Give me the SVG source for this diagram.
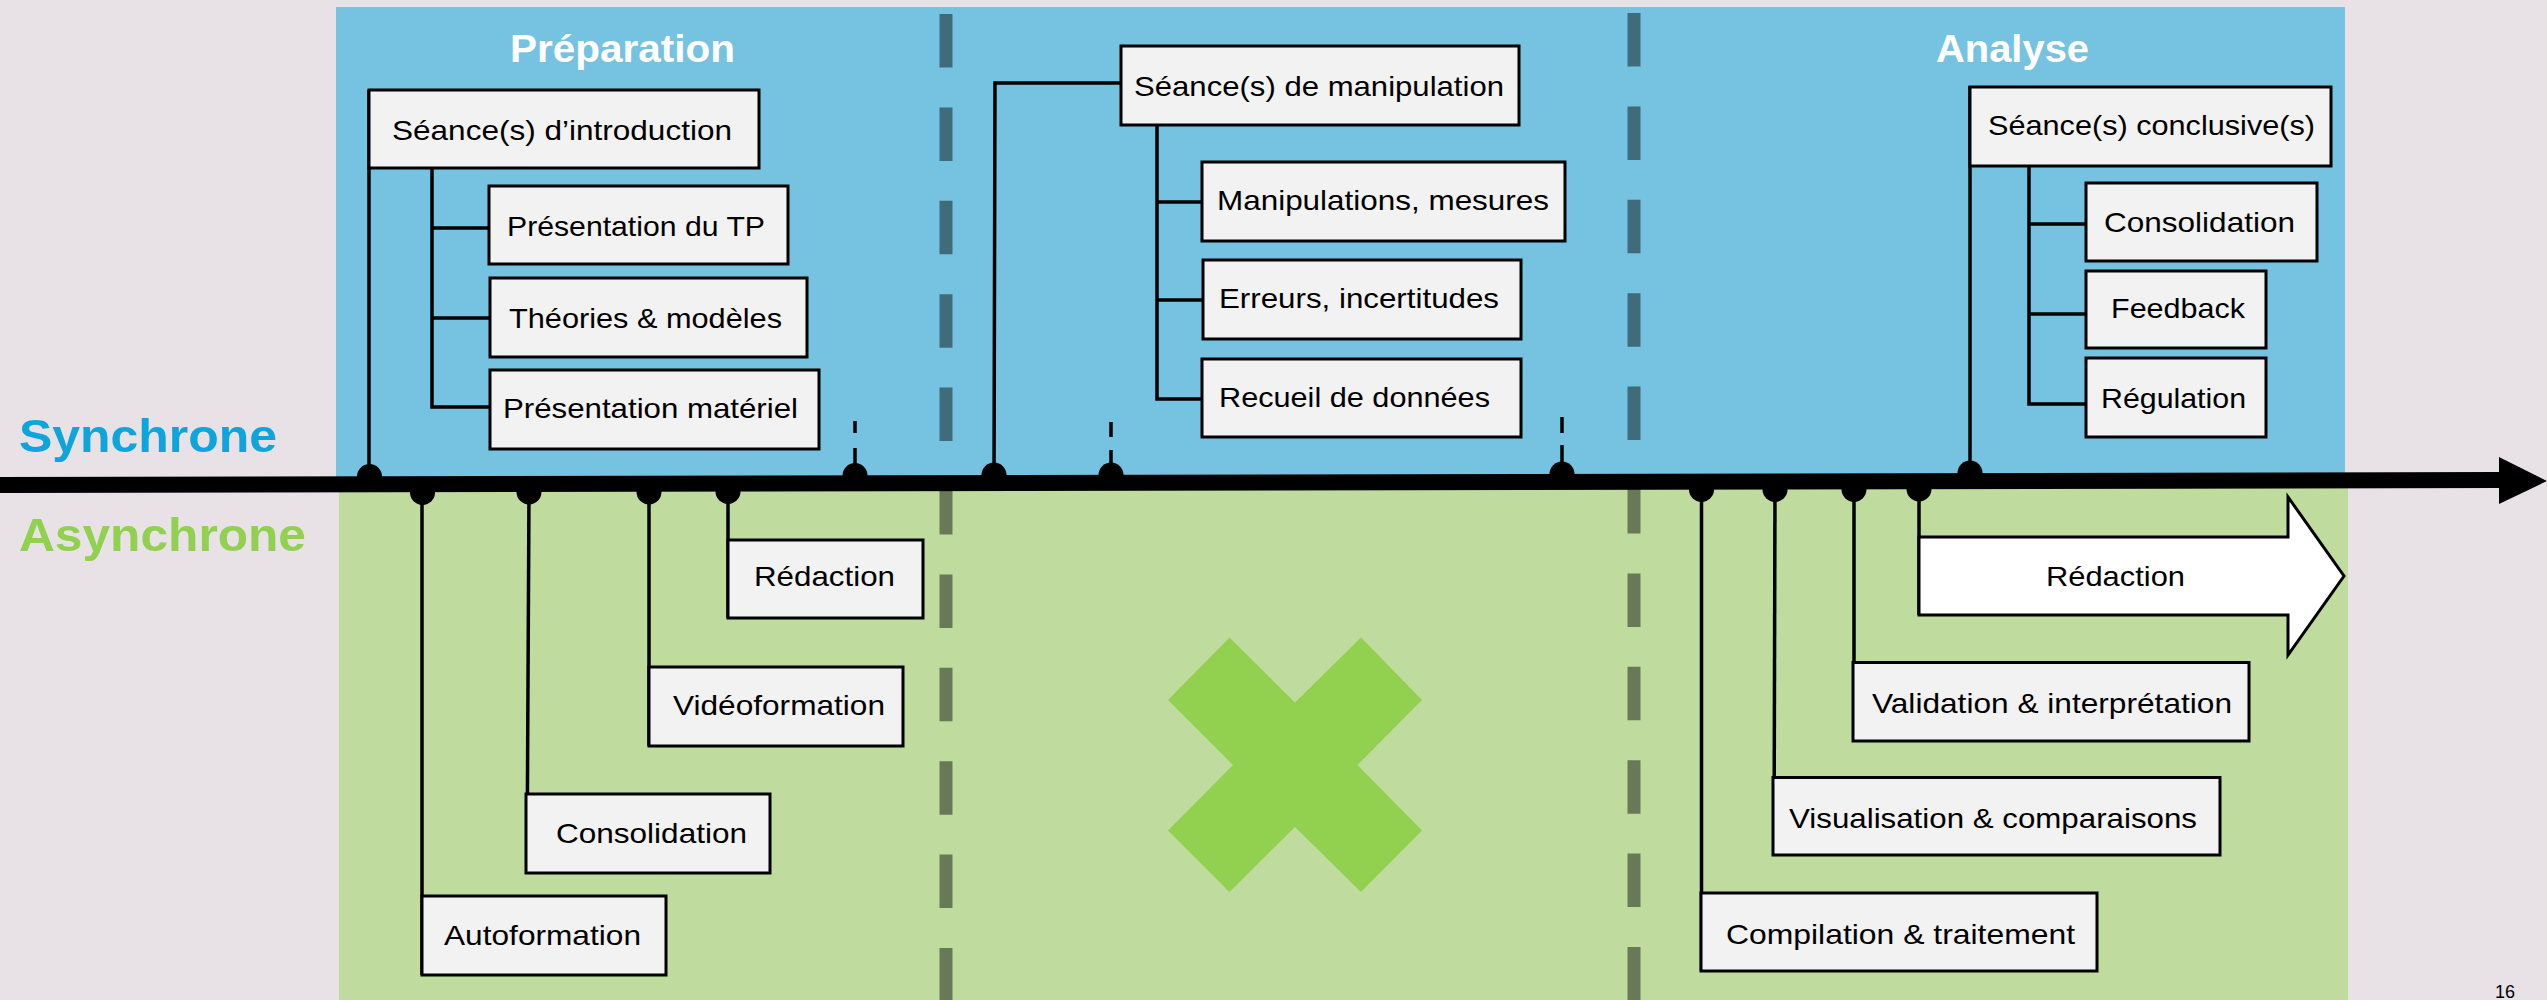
<svg xmlns="http://www.w3.org/2000/svg" width="2547" height="1000" viewBox="0 0 2547 1000">
<style>
.lbl{font-family:"Liberation Sans Narrow","Liberation Sans",Arial,sans-serif;font-size:28px;fill:#000}
.head{font-family:"Liberation Sans Narrow","Liberation Sans",Arial,sans-serif;font-weight:bold;font-size:38px;fill:#fff}
.side{font-family:"Liberation Sans Narrow","Liberation Sans",Arial,sans-serif;font-weight:bold;font-size:47px}
.box{fill:#f2f2f2;stroke:#000;stroke-width:3}
.ln{fill:none;stroke:#000;stroke-width:3.5}
.tick{fill:none;stroke:#000;stroke-width:3.5}
.div{stroke:#000;stroke-opacity:0.45;stroke-width:13;stroke-dasharray:53.5 39.9}
.dot{fill:#000}
</style>
<rect x="0" y="0" width="2547" height="1000" fill="#e8e2e6"/>
<g id="zones">
<rect x="336" y="7" width="2009" height="478" fill="#75c3e0"/>
<rect x="339" y="485" width="2009" height="515" fill="#bfdb9e"/>
<line class="div" x1="946" y1="14" x2="946" y2="1000"/>
<line class="div" x1="1634" y1="13" x2="1634" y2="1000"/>
</g>
<g id="no-async">
<polygon fill="#92d050" points="1229.5,637.5 1295,702.5 1361,637.5 1422,700 1357.5,765 1422,830.5 1361,892 1295,827 1229.5,892 1168,830.5 1233,765 1168,700"/>
</g>
<g id="labels-side">
<text class="head" x="510" y="62" textLength="225" lengthAdjust="spacingAndGlyphs">Préparation</text>
<text class="head" x="1936" y="62" textLength="153" lengthAdjust="spacingAndGlyphs">Analyse</text>
<text class="side" x="19" y="452" fill="#0ea5dc" textLength="258" lengthAdjust="spacingAndGlyphs">Synchrone</text>
<text class="side" x="19" y="551" fill="#92d050" textLength="287" lengthAdjust="spacingAndGlyphs">Asynchrone</text>
</g>
<g id="connectors">
<polyline class="ln" points="369,90 369,477"/>
<polyline class="ln" points="432,168 432,407 489,407"/>
<line class="ln" x1="432" y1="228" x2="489" y2="228"/>
<line class="ln" x1="432" y1="318" x2="489" y2="318"/>
<polyline class="ln" points="1121,83 995,83 994,475"/>
<polyline class="ln" points="1157,125 1157,399 1202,399"/>
<line class="ln" x1="1157" y1="202" x2="1202" y2="202"/>
<line class="ln" x1="1157" y1="300" x2="1202" y2="300"/>
<polyline class="ln" points="1970,86 1970,473"/>
<polyline class="ln" points="2029,166 2029,404 2086,404"/>
<line class="ln" x1="2029" y1="224" x2="2086" y2="224"/>
<line class="ln" x1="2029" y1="314" x2="2086" y2="314"/>
<line class="tick" x1="855" y1="421" x2="855" y2="433"/>
<line class="tick" x1="855" y1="448" x2="855" y2="476"/>
<line class="tick" x1="1111" y1="422" x2="1111" y2="437"/>
<line class="tick" x1="1111" y1="450" x2="1111" y2="475"/>
<line class="tick" x1="1562" y1="417" x2="1562" y2="433"/>
<line class="tick" x1="1562" y1="445" x2="1562" y2="474"/>
<line class="ln" x1="422" y1="492" x2="422" y2="975"/>
<line class="ln" x1="529" y1="492" x2="527" y2="873"/>
<line class="ln" x1="649" y1="492" x2="649" y2="746"/>
<line class="ln" x1="728" y1="491" x2="728" y2="618"/>
<line class="ln" x1="1701.5" y1="490" x2="1701.5" y2="971"/>
<line class="ln" x1="1775" y1="489" x2="1774" y2="855"/>
<line class="ln" x1="1854" y1="489" x2="1854" y2="741"/>
<line class="ln" x1="1919" y1="489" x2="1919" y2="615"/>
</g>
<g id="axis">
<polygon fill="#000" points="0,477 2499,472 2499,457 2547,481 2499,504 2499,488 0,493"/>
<circle class="dot" cx="369.5" cy="476.5" r="12.5"/>
<circle class="dot" cx="855" cy="475.5" r="12.5"/>
<circle class="dot" cx="994" cy="475" r="12.5"/>
<circle class="dot" cx="1111" cy="475" r="12.5"/>
<circle class="dot" cx="1562" cy="474" r="12.5"/>
<circle class="dot" cx="1970" cy="473" r="12.5"/>
<circle class="dot" cx="422.5" cy="492.5" r="12.5"/>
<circle class="dot" cx="529" cy="492" r="12.5"/>
<circle class="dot" cx="649" cy="492" r="12.5"/>
<circle class="dot" cx="728" cy="491.5" r="12.5"/>
<circle class="dot" cx="1701.5" cy="489.5" r="12.5"/>
<circle class="dot" cx="1775" cy="489.5" r="12.5"/>
<circle class="dot" cx="1854" cy="489.3" r="12.5"/>
<circle class="dot" cx="1919" cy="489" r="12.5"/>
</g>
<g id="intro">
<rect class="box" x="369" y="90" width="390" height="78"/>
<text class="lbl" x="392" y="140" textLength="340" lengthAdjust="spacingAndGlyphs">Séance(s) d’introduction</text>
</g>
<g id="presentation-tp">
<rect class="box" x="489" y="186" width="299" height="78"/>
<text class="lbl" x="507" y="236" textLength="258" lengthAdjust="spacingAndGlyphs">Présentation du TP</text>
</g>
<g id="theories">
<rect class="box" x="490" y="278" width="317" height="79"/>
<text class="lbl" x="509" y="328" textLength="273" lengthAdjust="spacingAndGlyphs">Théories &amp; modèles</text>
</g>
<g id="presentation-materiel">
<rect class="box" x="490" y="370" width="329" height="79"/>
<text class="lbl" x="503" y="418" textLength="295" lengthAdjust="spacingAndGlyphs">Présentation matériel</text>
</g>
<g id="manipulation">
<rect class="box" x="1121" y="46" width="398" height="79"/>
<text class="lbl" x="1134" y="96" textLength="370" lengthAdjust="spacingAndGlyphs">Séance(s) de manipulation</text>
</g>
<g id="manipulations-mesures">
<rect class="box" x="1202" y="162" width="363" height="79"/>
<text class="lbl" x="1217" y="210" textLength="332" lengthAdjust="spacingAndGlyphs">Manipulations, mesures</text>
</g>
<g id="erreurs">
<rect class="box" x="1203" y="260" width="318" height="79"/>
<text class="lbl" x="1219" y="308" textLength="280" lengthAdjust="spacingAndGlyphs">Erreurs, incertitudes</text>
</g>
<g id="recueil">
<rect class="box" x="1202" y="359" width="319" height="78"/>
<text class="lbl" x="1219" y="407" textLength="271" lengthAdjust="spacingAndGlyphs">Recueil de données</text>
</g>
<g id="conclusive">
<rect class="box" x="1970" y="87" width="361" height="79"/>
<text class="lbl" x="1988" y="135" textLength="327" lengthAdjust="spacingAndGlyphs">Séance(s) conclusive(s)</text>
</g>
<g id="consolidation-sync">
<rect class="box" x="2086" y="183" width="231" height="78"/>
<text class="lbl" x="2104" y="232" textLength="191" lengthAdjust="spacingAndGlyphs">Consolidation</text>
</g>
<g id="feedback">
<rect class="box" x="2086" y="271" width="180" height="77"/>
<text class="lbl" x="2111" y="318" textLength="134" lengthAdjust="spacingAndGlyphs">Feedback</text>
</g>
<g id="regulation">
<rect class="box" x="2086" y="358" width="180" height="79"/>
<text class="lbl" x="2101" y="408" textLength="145" lengthAdjust="spacingAndGlyphs">Régulation</text>
</g>
<g id="redaction-prep">
<rect class="box" x="728" y="540" width="195" height="78"/>
<text class="lbl" x="754" y="586" textLength="141" lengthAdjust="spacingAndGlyphs">Rédaction</text>
</g>
<g id="videoformation">
<rect class="box" x="649" y="667" width="254" height="79"/>
<text class="lbl" x="673" y="715" textLength="212" lengthAdjust="spacingAndGlyphs">Vidéoformation</text>
</g>
<g id="consolidation-async">
<rect class="box" x="526" y="794" width="244" height="79"/>
<text class="lbl" x="556" y="843" textLength="191" lengthAdjust="spacingAndGlyphs">Consolidation</text>
</g>
<g id="autoformation">
<rect class="box" x="422" y="896" width="244" height="79"/>
<text class="lbl" x="444" y="945" textLength="197" lengthAdjust="spacingAndGlyphs">Autoformation</text>
</g>
<g id="redaction-analyse">
<polygon fill="#fff" stroke="#000" stroke-width="3" points="1919,537 2288,537 2288,497 2344,576 2288,655 2288,615 1919,615"/>
<text class="lbl" x="2046" y="586" textLength="139" lengthAdjust="spacingAndGlyphs">Rédaction</text>
</g>
<g id="validation">
<rect class="box" x="1853" y="662.5" width="396" height="78.5"/>
<text class="lbl" x="1872" y="713" textLength="360" lengthAdjust="spacingAndGlyphs">Validation &amp; interprétation</text>
</g>
<g id="visualisation">
<rect class="box" x="1773" y="777.5" width="447" height="77.5"/>
<text class="lbl" x="1789" y="827.5" textLength="408" lengthAdjust="spacingAndGlyphs">Visualisation &amp; comparaisons</text>
</g>
<g id="compilation">
<rect class="box" x="1701" y="893" width="396" height="78"/>
<text class="lbl" x="1726" y="944" textLength="349" lengthAdjust="spacingAndGlyphs">Compilation &amp; traitement</text>
</g>
<text x="2495" y="998" font-family="Liberation Sans, Arial, sans-serif" font-size="18" fill="#000">16</text>
</svg>
